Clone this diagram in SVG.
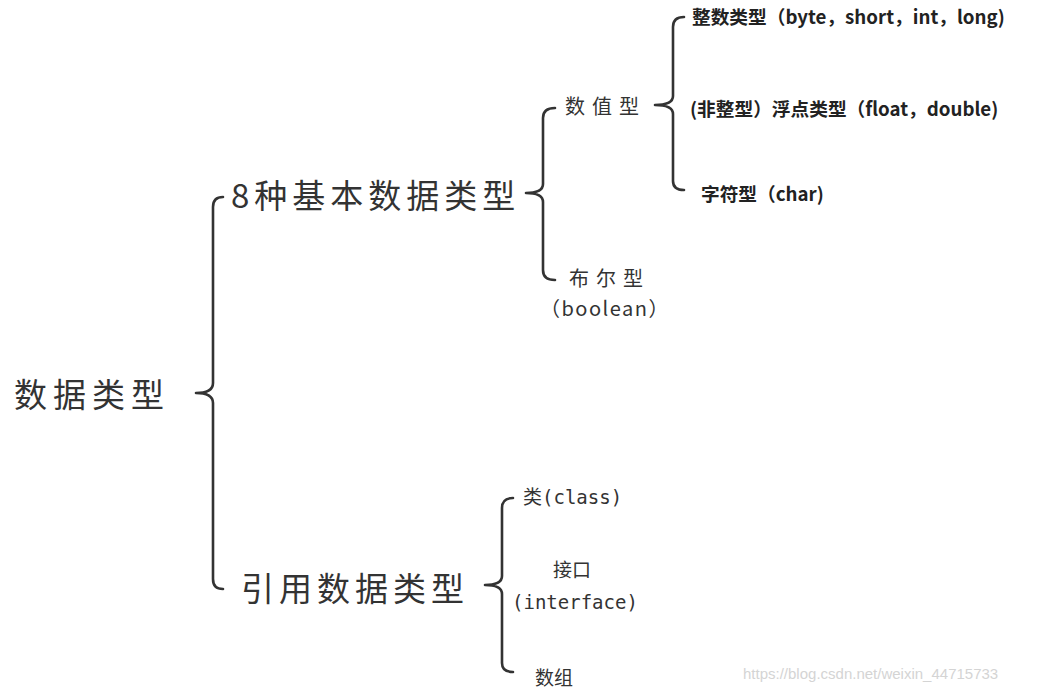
<svg xmlns="http://www.w3.org/2000/svg" width="1044" height="692" viewBox="0 0 1044 692">
<style>
.br{fill:none;stroke:#333;stroke-width:2.6;stroke-linecap:round;stroke-linejoin:round}
.big{font-family:"Noto Sans CJK SC",sans-serif;font-size:33px;fill:#333;letter-spacing:5px}
.mid{font-family:"Noto Sans CJK SC",sans-serif;font-size:20px;fill:#333;letter-spacing:7px}
.bold{font-family:"Noto Sans CJK SC",sans-serif;font-size:18.7px;font-weight:bold;fill:#222}
.mono{font-family:"DejaVu Sans Mono","Noto Sans CJK SC",monospace;font-size:19px;fill:#333}
.wm{font-family:"Liberation Sans",sans-serif;font-size:15px;fill:#d4d4d4}
</style>
<rect width="1044" height="692" fill="#fff"/>
<g id="connectors">
<path class="br" d="M223,197 Q213,197 213,207 L213,383 Q213,393 196,393 Q213,393 213,403 L213,579 Q213,589 223,589"/>
<path class="br" d="M555,108 Q543,108 543,118 L543,184 Q543,193 526,193 Q543,193 543,202 L543,270 Q543,280 555,280"/>
<path class="br" d="M684,17 Q673,17 673,27 L673,96 Q673,105 655,105 Q673,105 673,114 L673,181 Q673,190 684,190"/>
<path class="br" d="M513,498 Q502,498 502,508 L502,576 Q502,585 485,585 Q502,585 502,594 L502,663 Q502,672 513,672"/>
</g>
<g id="root"><text class="big" x="14" y="393" dominant-baseline="central" style="letter-spacing:6px">数据类型</text></g>
<g id="basic"><text class="big" x="231" y="194" dominant-baseline="central">8种基本数据类型</text></g>
<g id="ref"><text class="big" x="241" y="587" dominant-baseline="central">引用数据类型</text></g>
<g id="numeric"><text class="mid" x="565" y="105" dominant-baseline="central">数值型</text></g>
<g id="boolean"><text class="mid" x="569" y="277" dominant-baseline="central">布尔型</text><text class="mid" x="540" y="307" dominant-baseline="central" style="font-size:20px;letter-spacing:1.5px">（boolean）</text></g>
<g id="int"><text class="bold" x="692" y="15" dominant-baseline="central">整数类型（byte，short，int，long)</text></g>
<g id="float"><text class="bold" x="690" y="107" dominant-baseline="central">(非整型）浮点类型（float，double)</text></g>
<g id="char"><text class="bold" x="701" y="192" dominant-baseline="central">字符型（char)</text></g>
<g id="class"><text class="mono" x="523" y="497" dominant-baseline="central">类(class)</text></g>
<g id="interface"><text class="mono" x="553" y="570" dominant-baseline="central">接口</text><text class="mono" x="512" y="602" dominant-baseline="central">(interface)</text></g>
<g id="array"><text class="mono" x="535" y="678" dominant-baseline="central">数组</text></g>
<text class="wm" x="743" y="673" dominant-baseline="central">https://blog.csdn.net/weixin_44715733</text>
</svg>
